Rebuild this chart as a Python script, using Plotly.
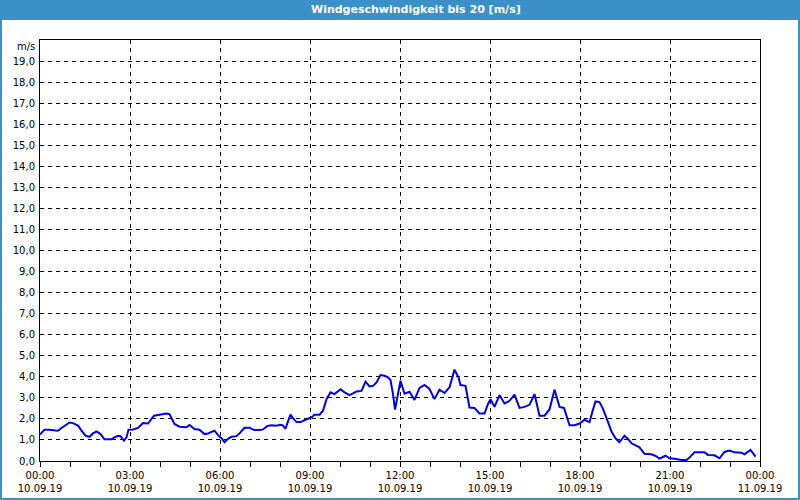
import pandas as pd
import plotly.graph_objects as go

# ---- data ----
DATE = "2019-09-10"
times = ["00:00","00:09","00:19","00:29","00:36","00:43","00:53","00:59","01:06","01:16",
         "01:23","01:31","01:39","01:46","01:53","02:01","02:09","02:23","02:29","02:36",
         "02:41","02:48","02:53","02:57","03:06","03:16","03:26","03:36","03:48","03:59",
         "04:13","04:19","04:29","04:39","04:53","04:59","05:09","05:19","05:29","05:36",
         "05:49","05:59","06:03","06:09","06:16","06:23","06:33","06:39","06:49","06:59",
         "07:09","07:19","07:26","07:35","07:43","07:53","07:59","08:05","08:11","08:16",
         "08:21","08:26","08:33","08:41","08:51","08:57","09:03","09:09","09:19","09:26",
         "09:33","09:41","09:49","10:01","10:09","10:19","10:26","10:33","10:43","10:51",
         "10:59","11:06","11:13","11:21","11:29","11:36","11:41","11:46","11:50","11:54",
         "12:01","12:09","12:19","12:29","12:39","12:49","12:59","13:09","13:19","13:29",
         "13:39","13:49","13:57","14:01","14:11","14:19","14:29","14:39","14:49","14:56",
         "15:01","15:09","15:19","15:29","15:39","15:49","15:59","16:09","16:19","16:29",
         "16:39","16:49","16:59","17:09","17:19","17:28","17:39","17:49","17:59","18:09",
         "18:19","18:26","18:31","18:39","18:46","18:55","19:03","19:11","19:19","19:29",
         "19:36","19:43","19:53","19:59","20:09","20:23","20:33","20:39","20:51","20:59",
         "21:09","21:23","21:33","21:39","21:49","22:09","22:16","22:29","22:39","22:49",
         "22:59","23:09","23:23","23:29","23:41","23:51"]
speed = [1.26,1.49,1.49,1.44,1.44,1.57,1.72,1.83,1.80,1.68,
         1.44,1.20,1.15,1.31,1.41,1.28,1.03,1.03,1.12,1.20,
         1.18,0.97,1.12,1.49,1.50,1.57,1.80,1.78,2.15,2.20,
         2.26,2.23,1.76,1.63,1.60,1.71,1.52,1.49,1.28,1.31,
         1.44,1.15,1.09,0.89,1.05,1.15,1.18,1.31,1.58,1.58,
         1.47,1.47,1.50,1.67,1.70,1.67,1.72,1.70,1.53,1.88,
         2.20,2.04,1.85,1.85,1.97,2.02,2.07,2.20,2.20,2.39,
         2.94,3.26,3.18,3.41,3.26,3.13,3.21,3.30,3.33,3.77,
         3.54,3.57,3.73,4.08,4.05,3.97,3.85,3.18,2.44,2.94,
         3.81,3.20,3.29,2.90,3.47,3.61,3.42,2.94,3.39,3.23,
         3.50,4.34,3.97,3.61,3.57,2.54,2.52,2.26,2.26,2.71,
         2.94,2.57,3.13,2.73,2.86,3.15,2.52,2.57,2.67,3.18,
         2.15,2.15,2.45,3.39,2.57,2.52,1.70,1.70,1.78,1.96,
         1.85,2.44,2.83,2.80,2.48,1.92,1.40,1.08,0.89,1.20,
         1.05,0.84,0.70,0.65,0.34,0.32,0.22,0.11,0.25,0.13,
         0.11,0.05,0.05,0.16,0.41,0.41,0.29,0.27,0.13,0.43,
         0.50,0.41,0.39,0.32,0.53,0.21]
y_ticks = list(range(0, 20))
title_text = "Windgeschwindigkeit bis 20 [m/s]"
unit_text = "m/s"

x = pd.to_datetime([f"{DATE} {t}" for t in times])

# ---- geometry helpers (pixel -> paper) ----
W, H = 800, 500
L, R, T, B = 40, 40, 40, 39
PW, PH = W - L - R, H - T - B
def px(p):
    return (p - L) / PW
def py(p):
    return (H - B - p) / PH

BLUE = "#3C90C8"
FONT = "DejaVu Sans"

fig = go.Figure()
fig.add_trace(go.Scatter(x=x, y=speed, mode="lines",
                         line=dict(color="#0000F0", width=2), hoverinfo="skip"))

fig.update_layout(
    width=W, height=H,
    margin=dict(l=L, r=R, t=T, b=B, autoexpand=False),
    paper_bgcolor="white", plot_bgcolor="white",
    showlegend=False,
    separators=",.",
    font=dict(family=FONT, size=10, color="black"),
    xaxis=dict(
        type="date",
        range=[f"{DATE} 00:00", "2019-09-11 00:00"],
        tick0=f"{DATE} 00:00", dtick=3 * 3600000,
        tickformat="%H:%M<br>%d.%m.%y",
        ticks="outside", ticklen=5, tickcolor="black",
        minor=dict(dtick=3600000, ticks="outside", ticklen=5, tickcolor="black", showgrid=False),
        showgrid=True, gridcolor="black", gridwidth=1, griddash="4px,4px",
        showline=True, linecolor="black", linewidth=1, mirror=True,
        zeroline=False, fixedrange=True,
        tickfont=dict(family=FONT, size=10, color="black"),
    ),
    yaxis=dict(
        range=[0, 20], tickvals=y_ticks, tickformat=".1f",
        ticks="", ticklabelstandoff=2,
        showgrid=True, gridcolor="black", gridwidth=1, griddash="4px,4px",
        showline=True, linecolor="black", linewidth=1, mirror=True,
        zeroline=False, fixedrange=True,
        tickfont=dict(family=FONT, size=10, color="black"),
    ),
    shapes=[
        # title bar
        dict(type="rect", xref="paper", yref="paper",
             x0=px(0), x1=px(W), y0=py(20), y1=py(0),
             fillcolor=BLUE, line=dict(width=0), layer="above"),
        # outer border
        dict(type="rect", xref="paper", yref="paper",
             x0=px(0), x1=px(W), y0=py(H), y1=py(0),
             fillcolor="rgba(0,0,0,0)", line=dict(color=BLUE, width=4), layer="above"),
    ],
    annotations=[
        dict(text=f"<b>{title_text}</b>", xref="paper", yref="paper",
             x=px(416), y=py(10), xanchor="center", yanchor="middle",
             showarrow=False, font=dict(family=FONT, size=11, color="white")),
        dict(text=unit_text, xref="paper", yref="paper",
             x=px(37), y=py(46), xanchor="right", yanchor="middle",
             showarrow=False, font=dict(family=FONT, size=10, color="black")),
    ],
)

fig.write_html("out.html")
